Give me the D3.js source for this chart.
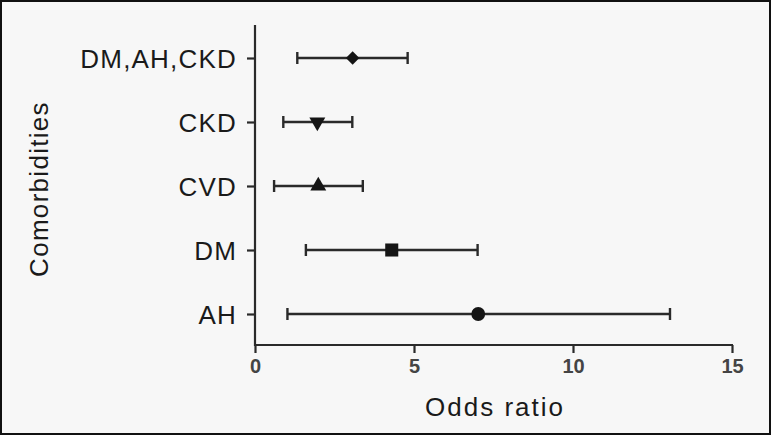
<!DOCTYPE html>
<html><head><meta charset="utf-8">
<script src="https://cdn.jsdelivr.net/npm/d3@7"></script>
<style>body{margin:0;background:#fff}svg{display:block}</style>
</head><body><svg id="c" width="771" height="436"></svg>
<script>
const categories = ["DM,AH,CKD","CKD","CVD","DM","AH"];
const oddsRatio = [3.07, 1.96, 1.99, 4.3, 7.02];
const lowerCI = [1.33, 0.89, 0.6, 1.6, 1.02];
const upperCI = [4.8, 3.06, 3.39, 7.0, 13.05];
const markers = ["diamond","triangleDown","triangle","square","circle"];
const xTicks = [0,5,10,15];

const svg = d3.select("#c");
svg.append("rect").attr("x",1).attr("y",1).attr("width",769).attr("height",433)
  .attr("fill","#f7f7f7").attr("stroke","#111").attr("stroke-width",2);

const x = d3.scaleLinear().domain([0,15]).range([255,732]);
const y = d3.scalePoint().domain(categories).range([58,314]);
const ink = "#2a2a2a";

svg.append("line").attr("x1",255).attr("x2",255).attr("y1",25).attr("y2",346)
  .attr("stroke",ink).attr("stroke-width",2.2);
const xa = svg.append("g").attr("transform","translate(0,345)")
  .call(d3.axisBottom(x).tickValues(xTicks).tickSize(8).tickPadding(6));
xa.select(".domain").attr("stroke",ink).attr("stroke-width",2.2).attr("d","M254,0H733");
xa.selectAll(".tick line").attr("stroke",ink).attr("stroke-width",2.2);
xa.selectAll(".tick text").attr("fill","#444").attr("font-family","Liberation Sans, Arial, sans-serif")
  .attr("font-weight","bold").attr("font-size",20);

const ya = svg.append("g").attr("transform","translate(255,0)")
  .call(d3.axisLeft(y).tickSize(8).tickPadding(10));
ya.select(".domain").remove();
ya.selectAll(".tick line").attr("stroke",ink).attr("stroke-width",2.2);
ya.selectAll(".tick text").attr("fill","#1a1a1a").attr("font-family","Liberation Sans, Arial, sans-serif")
  .attr("font-size",26).attr("letter-spacing",1.2).attr("dy","0.36em");

const rows = categories.map((c,i)=>({c, m:oddsRatio[i], lo:lowerCI[i], hi:upperCI[i], mk:markers[i]}));
const g = svg.append("g");
rows.forEach(d=>{
  const yy = y(d.c);
  g.append("line").attr("x1",x(d.lo)).attr("x2",x(d.hi)).attr("y1",yy).attr("y2",yy)
    .attr("stroke",ink).attr("stroke-width",2.4);
  [d.lo,d.hi].forEach(v=>g.append("line").attr("x1",x(v)).attr("x2",x(v)).attr("y1",yy-6).attr("y2",yy+6)
    .attr("stroke",ink).attr("stroke-width",2.4));
  let sym, size, rot=0;
  if(d.mk==="diamond"){sym=d3.symbolSquare;size=90;rot=45;}
  else if(d.mk==="triangleDown"){sym=d3.symbolTriangle;size=110;rot=180;}
  else if(d.mk==="triangle"){sym=d3.symbolTriangle;size=110;}
  else if(d.mk==="square"){sym=d3.symbolSquare;size=170;}
  else {sym=d3.symbolCircle;size=150;}
  g.append("path").attr("d",d3.symbol(sym,size)())
    .attr("transform",`translate(${x(d.m)},${yy}) rotate(${rot})`).attr("fill","#151515");
});

svg.append("text").attr("x",495).attr("y",416).attr("text-anchor","middle")
  .attr("font-family","Liberation Sans, Arial, sans-serif").attr("font-size",26).attr("letter-spacing",2)
  .attr("fill","#1a1a1a").text("Odds ratio");
svg.append("text").attr("transform","translate(48,189) rotate(-90)").attr("text-anchor","middle")
  .attr("font-family","Liberation Sans, Arial, sans-serif").attr("font-size",26).attr("letter-spacing",1.3)
  .attr("fill","#1a1a1a").text("Comorbidities");
</script></body></html>
